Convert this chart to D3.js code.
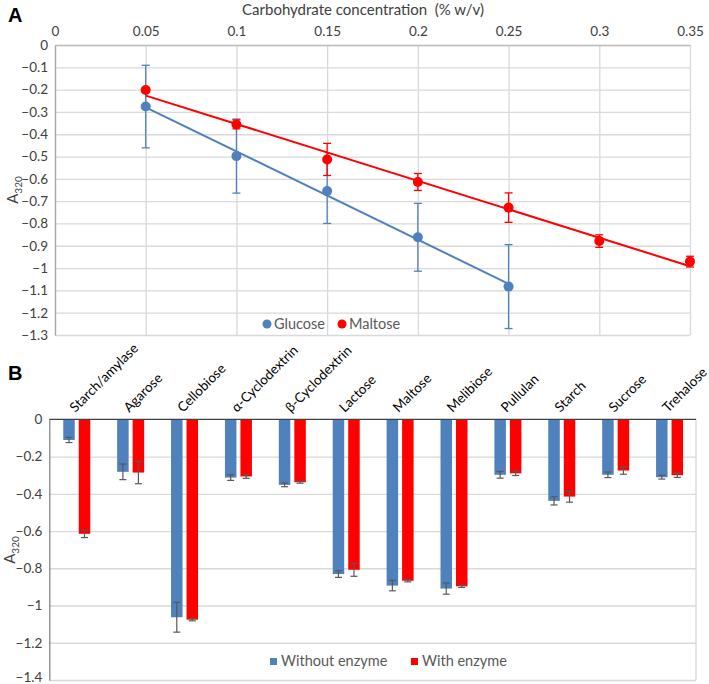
<!DOCTYPE html>
<html>
<head>
<meta charset="utf-8">
<script src="https://cdn.jsdelivr.net/npm/d3@7"></script>
<style>
  html, body { margin: 0; padding: 0; background: #fff; }
  svg { display: block; font-family: Lato, "Open Sans", sans-serif; }
</style>
</head>
<body>
<svg id="chart" width="709" height="684"></svg>
<script>
// ---------- Panel A data ----------
const concTicks = [0, 0.05, 0.1, 0.15, 0.2, 0.25, 0.3, 0.35];
const aYTicks = [0, -0.1, -0.2, -0.3, -0.4, -0.5, -0.6, -0.7, -0.8, -0.9, -1, -1.1, -1.2, -1.3];
const glucoseX = [0.05, 0.1, 0.15, 0.2, 0.25];
const glucoseY = [-0.276, -0.498, -0.655, -0.862, -1.083];
const glucoseErr = [0.185, 0.166, 0.145, 0.152, 0.188];
const maltoseX = [0.05, 0.1, 0.15, 0.2, 0.25, 0.3, 0.35];
const maltoseY = [-0.202, -0.356, -0.513, -0.614, -0.729, -0.879, -0.971];
const maltoseErr = [0.01, 0.02, 0.072, 0.038, 0.066, 0.028, 0.024];

// ---------- Panel B data ----------
const categories = ["Starch/amylase", "Agarose", "Cellobiose", "α-Cyclodextrin", "β-Cyclodextrin",
  "Lactose", "Maltose", "Melibiose", "Pullulan", "Starch", "Sucrose", "Trehalose"];
const withoutEnzyme = [-0.111, -0.282, -1.063, -0.313, -0.352, -0.831, -0.893, -0.909, -0.298, -0.438, -0.298, -0.311];
const withoutEnzymeErr = [0.014, 0.042, 0.08, 0.015, 0.01, 0.018, 0.028, 0.03, 0.018, 0.022, 0.015, 0.01];
const withEnzyme = [-0.615, -0.286, -1.076, -0.307, -0.338, -0.808, -0.867, -0.897, -0.29, -0.415, -0.275, -0.3];
const withEnzymeErr = [0.02, 0.06, 0.006, 0.01, 0.005, 0.035, 0.006, 0.006, 0.012, 0.03, 0.02, 0.012];
const bYTicks = [0, -0.2, -0.4, -0.6, -0.8, -1, -1.2, -1.4];

const BLUE = "#4f81bd", RED = "#ff0000", GRID = "#d9d9d9", TXT = "#404040", LEG = "#595959";
const fmt = v => (v === 0 ? "0" : String(v).replace("-", "\u2212"));

const svg = d3.select("#chart");

// ================= Panel A =================
const ax = d3.scaleLinear().domain([0, 0.35]).range([55, 690]);
const ay = d3.scaleLinear().domain([0, -1.3]).range([45, 335]);
const gA = svg.append("g");

gA.append("g").call(d3.axisTop(ax).tickValues(concTicks).tickSize(-(335 - 45)).tickFormat(""))
  .attr("transform", "translate(0,45)")
  .call(g => g.select(".domain").remove())
  .call(g => g.selectAll("line").attr("stroke", GRID).attr("stroke-width", 1.3));
gA.append("g").call(d3.axisLeft(ay).tickValues(aYTicks).tickSize(-(690 - 55)).tickFormat(""))
  .attr("transform", "translate(55,0)")
  .call(g => g.select(".domain").remove())
  .call(g => g.selectAll("line").attr("stroke", GRID).attr("stroke-width", 1.3));

gA.append("g").attr("transform", "translate(0,45)")
  .call(d3.axisTop(ax).tickValues(concTicks).tickSize(0).tickPadding(9).tickFormat(d => String(d)))
  .call(g => g.select(".domain").attr("stroke", "#bfbfbf").attr("stroke-width", 1.3))
  .call(g => g.selectAll("text").attr("fill", TXT).attr("font-size", 13.5).attr("font-family", "Lato, sans-serif"));
gA.append("g").attr("transform", "translate(55,0)")
  .call(d3.axisLeft(ay).tickValues(aYTicks).tickSize(0).tickPadding(7).tickFormat(fmt))
  .call(g => g.select(".domain").attr("stroke", "#a6a6a6").attr("stroke-width", 1.3))
  .call(g => g.selectAll("text").attr("fill", TXT).attr("font-size", 13.5).attr("font-family", "Lato, sans-serif"));

svg.append("text").attr("x", 363).attr("y", 15).attr("text-anchor", "middle")
  .attr("fill", TXT).attr("font-size", 15).text("Carbohydrate concentration\u00a0 (% w/v)");
svg.append("text").attr("x", 8).attr("y", 22).attr("font-size", 20).attr("font-weight", "bold")
  .attr("font-family", "Liberation Sans, Arial, sans-serif").attr("fill", "#000").text("A");

function yLabel(cx, cy) {
  const t = svg.append("text").attr("transform", `translate(${cx},${cy}) rotate(-90)`)
    .attr("text-anchor", "middle").attr("fill", TXT).attr("font-size", 15);
  t.append("tspan").text("A");
  t.append("tspan").attr("font-size", 10).attr("dy", 4).text("320");
}
yLabel(18, 190);

function linreg(xs, ys) {
  const mx = d3.mean(xs), my = d3.mean(ys);
  const sxy = d3.sum(xs, (x, i) => (x - mx) * (ys[i] - my));
  const sxx = d3.sum(xs, x => (x - mx) ** 2);
  const b = sxy / sxx, a = my - b * mx;
  return x => a + b * x;
}

function drawSeries(xs, ys, errs, color) {
  const g = gA.append("g");
  const f = linreg(xs, ys);
  const x0 = d3.min(xs), x1 = d3.max(xs);
  g.append("path").attr("d", d3.line()([[ax(x0), ay(f(x0))], [ax(x1), ay(f(x1))]]))
    .attr("stroke", color).attr("stroke-width", 2).attr("fill", "none");
  xs.forEach((x, i) => {
    const px = ax(x), top = ay(ys[i] + errs[i]), bot = ay(ys[i] - errs[i]);
    g.append("line").attr("x1", px).attr("x2", px).attr("y1", top).attr("y2", bot).attr("stroke", color).attr("stroke-width", 1.3);
    [top, bot].forEach(yy => g.append("line").attr("x1", px - 4).attr("x2", px + 4).attr("y1", yy).attr("y2", yy)
      .attr("stroke", color).attr("stroke-width", 1.3));
    g.append("circle").attr("cx", px).attr("cy", ay(ys[i])).attr("r", 5).attr("fill", color);
  });
}
drawSeries(glucoseX, glucoseY, glucoseErr, BLUE);
drawSeries(maltoseX, maltoseY, maltoseErr, RED);

const legA = [["Glucose", BLUE, 267], ["Maltose", RED, 342]];
legA.forEach(([name, col, x]) => {
  svg.append("circle").attr("cx", x).attr("cy", 324).attr("r", 4.5).attr("fill", col);
  svg.append("text").attr("x", x + 7).attr("y", 329).attr("fill", LEG).attr("font-size", 14.5).text(name);
});

// ================= Panel B =================
const bx = d3.scaleBand().domain(categories).range([49.3, 696]).paddingInner(0).paddingOuter(0);
const by = d3.scaleLinear().domain([0, -1.4]).range([419.3, 680]);
const bw = bx.bandwidth();
const sub = d3.scaleBand().domain(["without", "with"]).range([-0.241 * bw, 0.26 * bw]).paddingInner(0.258);
const gB = svg.append("g");

gB.append("g").attr("transform", "translate(49.3,0)")
  .call(d3.axisLeft(by).tickValues(bYTicks.slice(1)).tickSize(-(696 - 49.3)).tickFormat(""))
  .call(g => g.select(".domain").remove())
  .call(g => g.selectAll("line").attr("stroke", GRID).attr("stroke-width", 1.3));
gB.append("line").attr("x1", 696).attr("x2", 696).attr("y1", by(0)).attr("y2", by(-1.4))
  .attr("stroke", GRID).attr("stroke-width", 1.3);

const seriesB = [
  { key: "without", vals: withoutEnzyme, errs: withoutEnzymeErr, color: BLUE },
  { key: "with", vals: withEnzyme, errs: withEnzymeErr, color: RED }
];
seriesB.forEach(s => {
  categories.forEach((c, i) => {
    const cx = bx(c) + bw / 2 + sub(s.key);
    gB.append("rect").attr("x", cx).attr("y", by(0)).attr("width", sub.bandwidth())
      .attr("height", by(s.vals[i]) - by(0)).attr("fill", s.color);
  });
});
seriesB.forEach(s => {
  categories.forEach((c, i) => {
    const px = bx(c) + bw / 2 + sub(s.key) + sub.bandwidth() / 2;
    const top = by(s.vals[i] + s.errs[i]), bot = by(s.vals[i] - s.errs[i]);
    gB.append("line").attr("x1", px).attr("x2", px).attr("y1", top).attr("y2", bot).attr("stroke", "#595959").attr("stroke-width", 1.2);
    [top, bot].forEach(yy => gB.append("line").attr("x1", px - 3.5).attr("x2", px + 3.5).attr("y1", yy).attr("y2", yy)
      .attr("stroke", "#595959").attr("stroke-width", 1.2));
  });
});

gB.append("g").attr("transform", "translate(49.3,0)")
  .call(d3.axisLeft(by).tickValues(bYTicks).tickSize(0).tickPadding(7).tickFormat(fmt))
  .call(g => g.select(".domain").attr("stroke", "#868686").attr("stroke-width", 1.3))
  .call(g => g.selectAll("text").attr("fill", TXT).attr("font-size", 13.5).attr("font-family", "Lato, sans-serif"))
  .call(g => g.selectAll(".tick").filter(d => d === -1.4).select("text").attr("dy", "0.1em"));
gB.append("line").attr("x1", 49.3).attr("x2", 696).attr("y1", by(0)).attr("y2", by(0))
  .attr("stroke", "#404040").attr("stroke-width", 1.3);

categories.forEach(c => {
  const px = bx(c) + bw / 2 - 1;
  svg.append("text").attr("transform", `translate(${px},413) rotate(-45)`)
    .attr("fill", "#000").attr("font-size", 13.5).text(c);
});

svg.append("text").attr("x", 8).attr("y", 380).attr("font-size", 20).attr("font-weight", "bold")
  .attr("font-family", "Liberation Sans, Arial, sans-serif").attr("fill", "#000").text("B");
yLabel(15, 550);

const legB = [["Without enzyme", BLUE, 270], ["With enzyme", RED, 411]];
legB.forEach(([name, col, x]) => {
  svg.append("rect").attr("x", x).attr("y", 658).attr("width", 7).attr("height", 7).attr("fill", col);
  svg.append("text").attr("x", x + 11).attr("y", 666).attr("fill", LEG).attr("font-size", 14.5).text(name);
});
</script>
</body>
</html>
